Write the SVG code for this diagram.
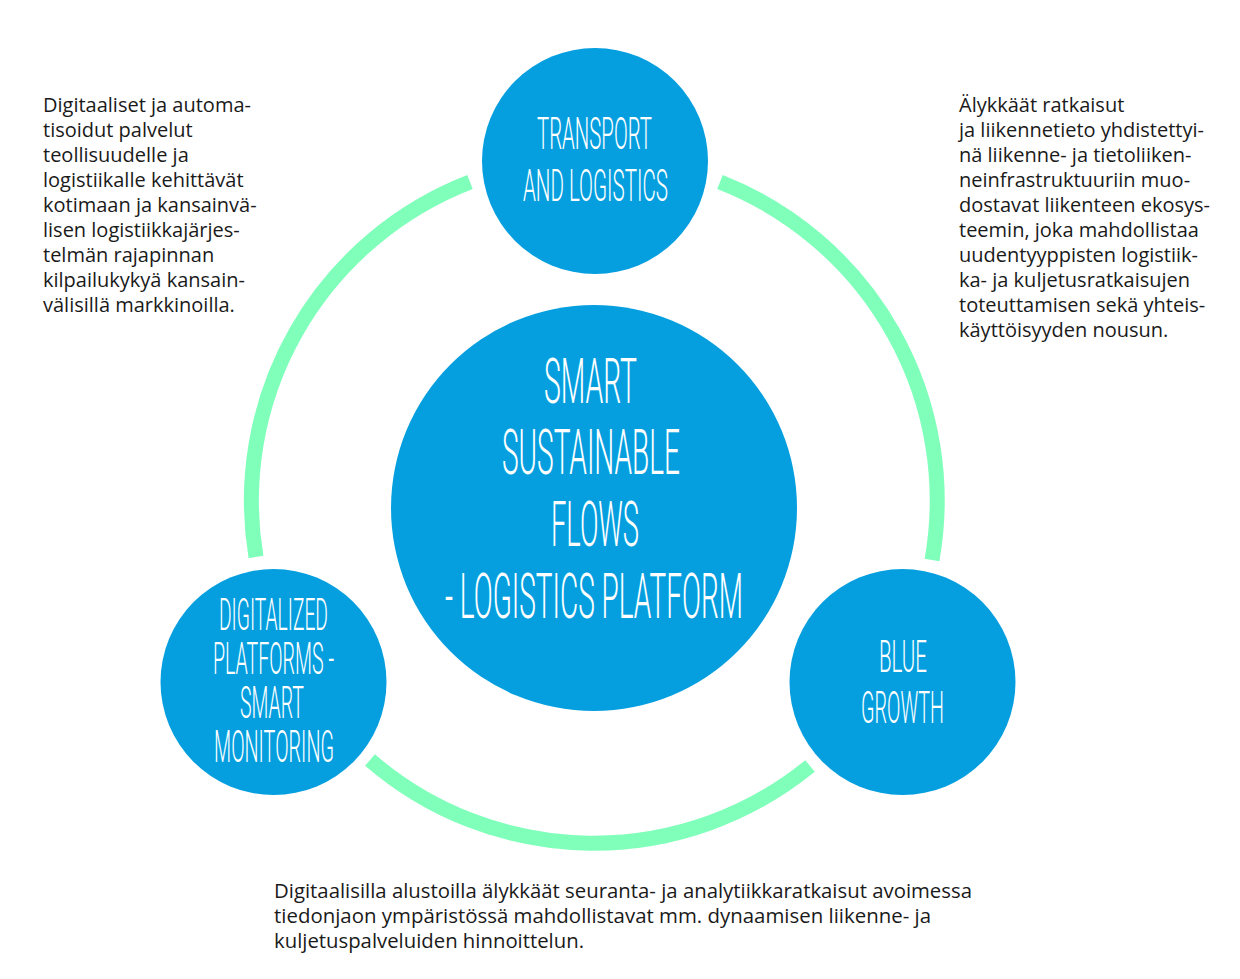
<svg xmlns="http://www.w3.org/2000/svg" width="1240" height="979" viewBox="0 0 1240 979">
<style>
.node{fill:#059FE0}
.ring{fill:none;stroke:#80FFBB;stroke-width:15;stroke-linecap:butt}
.hd{font-family:Roboto,"Liberation Sans",Arial,sans-serif;font-weight:300;fill:#fff;font-size:45px}
.big{font-family:Roboto,"Liberation Sans",Arial,sans-serif;font-weight:300;fill:#fff;font-size:63px}
.body{font-family:"Open Sans","Noto Sans",sans-serif;fill:#1a1a1a;font-size:20px}
</style>
<rect width="1240" height="979" fill="#fff"/>
<g id="connectors">
<path class="ring" d="M 256 557 A 342 342 0 0 1 470 182"/>
<path class="ring" d="M 720 182 A 342 342 0 0 1 932 560"/>
<path class="ring" d="M 810 766 A 342 342 0 0 1 370 760"/>
</g>
<g id="center">
<circle class="node" cx="594" cy="508" r="203"/>
<text class="big" x="544" y="403" textLength="93" lengthAdjust="spacingAndGlyphs">SMART</text>
<text class="big" x="502" y="474" textLength="178" lengthAdjust="spacingAndGlyphs">SUSTAINABLE</text>
<text class="big" x="551" y="546" textLength="88" lengthAdjust="spacingAndGlyphs">FLOWS</text>
<text class="big" x="445" y="618" textLength="298" lengthAdjust="spacingAndGlyphs">- LOGISTICS PLATFORM</text>
</g>
<g id="transport">
<circle class="node" cx="595" cy="161" r="113"/>
<text class="hd" x="537" y="149" textLength="115" lengthAdjust="spacingAndGlyphs">TRANSPORT</text>
<text class="hd" x="523" y="201" textLength="145" lengthAdjust="spacingAndGlyphs">AND LOGISTICS</text>
</g>
<g id="digitalized">
<circle class="node" cx="273.5" cy="682" r="113"/>
<text class="hd" x="219" y="630" textLength="109" lengthAdjust="spacingAndGlyphs">DIGITALIZED</text>
<text class="hd" x="213" y="674" textLength="121" lengthAdjust="spacingAndGlyphs">PLATFORMS -</text>
<text class="hd" x="240" y="718" textLength="64" lengthAdjust="spacingAndGlyphs">SMART</text>
<text class="hd" x="214" y="762" textLength="120" lengthAdjust="spacingAndGlyphs">MONITORING</text>
</g>
<g id="blue-growth">
<circle class="node" cx="902.5" cy="682" r="113"/>
<text class="hd" x="879" y="672" textLength="48" lengthAdjust="spacingAndGlyphs">BLUE</text>
<text class="hd" x="861" y="723" textLength="83" lengthAdjust="spacingAndGlyphs">GROWTH</text>
</g>
<g id="text-left">
<text class="body" x="43" y="112">Digitaaliset ja automa-</text>
<text class="body" x="43" y="137">tisoidut palvelut</text>
<text class="body" x="43" y="162">teollisuudelle ja</text>
<text class="body" x="43" y="187">logistiikalle kehittävät</text>
<text class="body" x="43" y="212">kotimaan ja kansainvä-</text>
<text class="body" x="43" y="237">lisen logistiikkajärjes-</text>
<text class="body" x="43" y="262">telmän rajapinnan</text>
<text class="body" x="43" y="287">kilpailukykyä kansain-</text>
<text class="body" x="43" y="312">välisillä markkinoilla.</text>
</g>
<g id="text-right">
<text class="body" x="959" y="112">Älykkäät ratkaisut</text>
<text class="body" x="959" y="137">ja liikennetieto yhdistettyi-</text>
<text class="body" x="959" y="162">nä liikenne- ja tietoliiken-</text>
<text class="body" x="959" y="187">neinfrastruktuuriin muo-</text>
<text class="body" x="959" y="212">dostavat liikenteen ekosys-</text>
<text class="body" x="959" y="237">teemin, joka mahdollistaa</text>
<text class="body" x="959" y="262">uudentyyppisten logistiik-</text>
<text class="body" x="959" y="287">ka- ja kuljetusratkaisujen</text>
<text class="body" x="959" y="312">toteuttamisen sekä yhteis-</text>
<text class="body" x="959" y="337">käyttöisyyden nousun.</text>
</g>
<g id="text-bottom">
<text class="body" x="274" y="898" textLength="698" lengthAdjust="spacingAndGlyphs">Digitaalisilla alustoilla älykkäät seuranta- ja analytiikkaratkaisut avoimessa</text>
<text class="body" x="274" y="923" textLength="657" lengthAdjust="spacingAndGlyphs">tiedonjaon ympäristössä mahdollistavat mm. dynaamisen liikenne- ja</text>
<text class="body" x="274" y="948" textLength="310" lengthAdjust="spacingAndGlyphs">kuljetuspalveluiden hinnoittelun.</text>
</g>
</svg>
